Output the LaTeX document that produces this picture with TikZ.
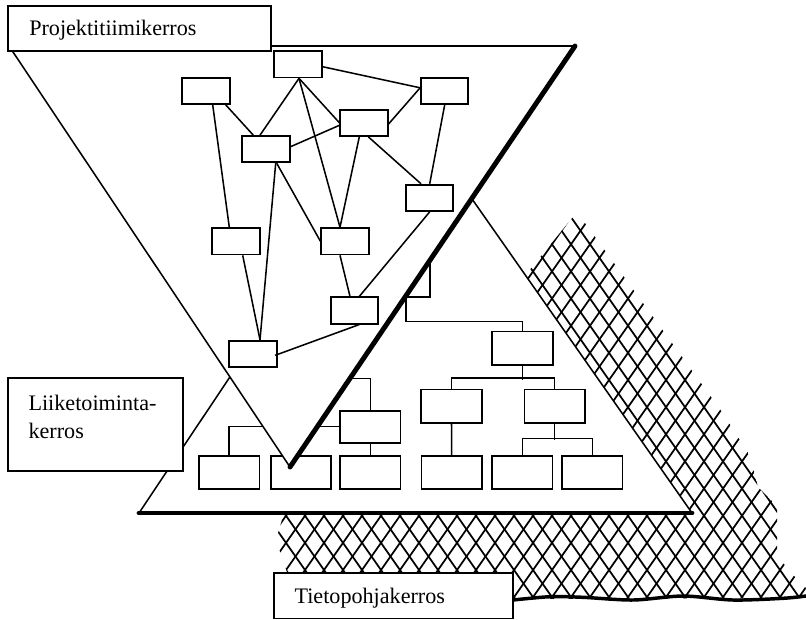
\documentclass[tikz,border=0pt]{standalone}
\usepackage{fontspec}
\setmainfont{Liberation Serif}
\usetikzlibrary{calc}
\begin{document}
\begin{tikzpicture}[x=0.75pt,y=-0.75pt,
  pbox/.style={draw,line width=1.35pt,fill=white,inner sep=0pt,minimum width=35.5pt,minimum height=19.7pt},
  bbox/.style={draw,line width=1.35pt,fill=white,inner sep=0pt,minimum width=45.4pt,minimum height=25.1pt},
  link/.style={line width=1.15pt},
  thinedge/.style={line width=1.15pt},
  heavyedge/.style={line width=3.7pt,line cap=round},
  hatchline/.style={line width=1.3pt},
  labelbox/.style={draw,line width=1.3pt,fill=white,inner sep=0pt},
  labeltext/.style={inner sep=0pt,anchor=base west,font=\fontsize{16.6}{20}\selectfont}
]
\useasboundingbox (0,0) rectangle (806,619);

% data foundation layer: cross-hatched ground
\begin{scope}
  \clip (284,513) -- (500,513) -- (524,277) -- (577,212) -- (722,412) -- (750,456)
        -- (758,487) -- (777,506) -- (777,556) -- (795,577) -- (806,588) -- (806,598)
        -- (285,600) -- (288,575) -- (276,540) -- cycle;
  \foreach \c in {-170,-151,...,680} \draw[hatchline] (\c+133,190) -- (\c+437.5,625);
  \foreach \c in {400,419,...,1250} \draw[hatchline] (\c-133,190) -- (\c-437.5,625);
\end{scope}
\draw[line width=2.6pt] plot[smooth] coordinates {(513,600) (550,596.7) (583,597.3) (633,600) (683,596) (733,600) (783,598.3) (806,596)};

% business layer: upright triangle
\coordinate (bl) at (139,513);
\coordinate (br) at (692,513);
\coordinate (bt) at (409,109);
\fill[white] (bl) -- (bt) -- (br) -- cycle;
\draw[thinedge] (bl) -- (bt) -- (br);
\draw[heavyedge] (bl) -- (br);

% business layer: organisation chart
\node[bbox,minimum width=36pt,minimum height=35.25pt] (T) at (406,273.5) {};
\node[bbox] (K) at (522.5,348.3) {};
\node[bbox] (L) at (451.5,406.3) {};
\node[bbox] (M) at (554.7,406.3) {};
\node[bbox,minimum height=24pt] (N) at (370.3,426.7) {};
\node[bbox] (Q1) at (229.2,472.6) {};
\node[bbox] (Q2) at (301,472.6) {};
\node[bbox] (Q3) at (370.3,472.6) {};
\node[bbox] (Q4) at (451.7,472.6) {};
\node[bbox] (Q5) at (522.3,472.6) {};
\node[bbox] (Q6) at (592.3,472.6) {};
\coordinate (nfeed) at (345,378.3);

\draw[link] (T.south) -- ++(0,23.5) -| (K.north);
\draw[link] (K.south) -- ++(0,14);
\draw[link] (L.north) -- ++(0,-10.7) -| (M.north);
\draw[link] (L.south) -- (Q4.north);
\draw[link] (M.south) -- ++(0,16);
\draw[link] (Q5.north) -- ++(0,-16.7) -| (Q6.north);
\draw[link] (nfeed) -| (N.north);
\draw[link] (N.west) -| (Q1.north);
\draw[link] (N.south) -- (Q3.north);

% project team layer: inverted triangle
\coordinate (pl) at (9,46);
\coordinate (pr) at (575,46);
\coordinate (pb) at (290,467);
\fill[white] (pl) -- (pr) -- (pb) -- cycle;
\draw[thinedge] (pb) -- (pl) -- (pr);
\draw[heavyedge] (pr) -- (pb);

% project team layer: network of teams
\node[pbox] (A) at (298,64.3) {};
\node[pbox] (B) at (206,90.8) {};
\node[pbox] (C) at (444.7,90.8) {};
\node[pbox] (D) at (364,122.8) {};
\node[pbox] (E) at (266,149.2) {};
\node[pbox] (F) at (429.7,197.8) {};
\node[pbox] (G) at (236,241.3) {};
\node[pbox] (H) at (345,241.3) {};
\node[pbox] (I) at (354.7,310.5) {};
\node[pbox] (J) at (253,353.8) {};

\draw[link] ($(A.south)+(1,0)$) -- ($(E.north)+(-6,0)$);
\draw[link] ($(A.south)+(1,0)$) -- ($(H.north)+(-5,0)$);
\draw[link] ($(A.south)+(1,0)$) -- (D.west);
\draw[link] ($(A.east)+(0,2.4)$) -- ($(C.west)+(0,-3)$);
\draw[link] ($(B.south)+(6.7,0)$) -- ($(G.north)+(-6.7,0)$);
\draw[link] ($(B.south)+(19.7,0)$) -- ($(E.north)+(-12.7,0)$);
\draw[link] ($(E.east)+(0,-2.5)$) -- ($(D.west)+(0,2.5)$);
\draw[link] ($(D.east)+(0,1.2)$) -- ($(C.west)+(0,-3)$);
\draw[link] ($(D.south)+(-4.7,0)$) -- ($(H.north)+(-5,0)$);
\draw[link] ($(D.south)+(4.3,0)$) -- ($(F.north)+(-8.7,0)$);
\draw[link] (C.south) -- (F.north);
\draw[link] ($(E.south)+(9.7,0)$) -- ($(J.north)+(7,0)$);
\draw[link] ($(E.south)+(10.7,0)$) -- (H.west);
\draw[link] ($(H.south)+(-5,0)$) -- ($(I.north)+(-4.7,0)$);
\draw[link] (F.south) -- ($(I.north)+(4.6,0)$);
\draw[link] ($(I.south)+(4.6,0)$) -- ($(J.east)+(-2.4,1.5)$);
\draw[link] ($(G.south)+(6.7,0)$) -- ($(J.north)+(7,0)$);

% layer captions
\node[labelbox,minimum width=197.25pt,minimum height=33.75pt] (projbox) at (139.5,28.5) {};
\node[labeltext] (projtext) at (29,35.5) {Projektitiimikerros};
\node[labelbox,minimum width=130.8pt,minimum height=69.3pt] (busbox) at (95.5,424.5) {};
\node[labeltext] (bustext1) at (28.3,410) {Liiketoiminta-};
\node[labeltext] (bustext2) at (28.3,438.3) {kerros};
\node[labelbox,minimum width=179.5pt,minimum height=33.9pt] (databox) at (393.65,595.9) {};
\node[labeltext] (datatext) at (294.3,603.3) {Tietopohjakerros};
\end{tikzpicture}
\end{document}
